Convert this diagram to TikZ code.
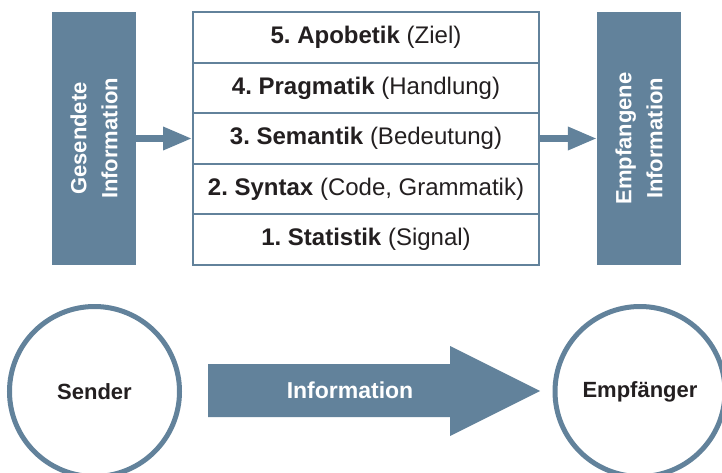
\documentclass[tikz,border=0pt]{standalone}
\usepackage{fontspec}
\setmainfont{Liberation Sans}
\usetikzlibrary{arrows.meta}
\definecolor{steel}{HTML}{62829B}
\definecolor{ink}{HTML}{231F20}
\frenchspacing
\begin{document}
\begin{tikzpicture}[x=1pt,y=-1pt,
  sidebox/.style={rectangle, fill=steel, draw=none, rotate=90, minimum width=253pt, minimum height=84pt,
    inner sep=0pt, align=center, text=white, font=\fontsize{22}{31}\selectfont\bfseries},
  layer/.style={rectangle, draw=steel, line width=2pt, fill=white, minimum width=346pt, minimum height=50.6pt,
    inner sep=0pt, text=ink, font=\fontsize{24}{28}\selectfont},
  conn/.style={draw=steel, line width=6.5pt, -{Triangle[length=29pt,width=22pt]}},
  party/.style={circle, draw=steel, line width=5pt, minimum size=170pt, inner sep=0pt, text=ink,
    font=\fontsize{22}{26}\selectfont\bfseries},
  biglabel/.style={text=white, inner sep=0pt, font=\fontsize{23}{27}\selectfont\bfseries}]
\useasboundingbox (0,0) rectangle (722,473);
% side boxes
\node[sidebox] (gb) at (94,138.5) {Gesendete\\Information};
\node[sidebox] (eb) at (639,138.5) {Empfangene\\Information};
% layers
\node[layer] (r5) at (366,37.3) {\textbf{5. Apobetik} (Ziel)};
\node[layer] (r4) at (366,87.9) {\textbf{4. Pragmatik} (Handlung)};
\node[layer] (r3) at (366,138.5) {\textbf{3. Semantik} (Bedeutung)};
\node[layer] (r2) at (366,189.1) {\textbf{2. Syntax} (Code, Grammatik)};
\node[layer] (r1) at (366,239.7) {\textbf{1. Statistik} (Signal)};
% connectors
\draw[conn] (gb) -- (r3);
\draw[conn] (r3) -- (eb);
% bottom row
\node[party] (sender) at (94.5,391.5) {Sender};
\node[party] (empf) at (640,391.5) {Empfänger};
\fill[steel] (208,364) -- (450,364) -- (450,346) -- (540,391) -- (450,436) -- (450,417) -- (208,417) -- cycle;
\node[biglabel] (info) at (350,390) {Information};
\end{tikzpicture}
\end{document}
